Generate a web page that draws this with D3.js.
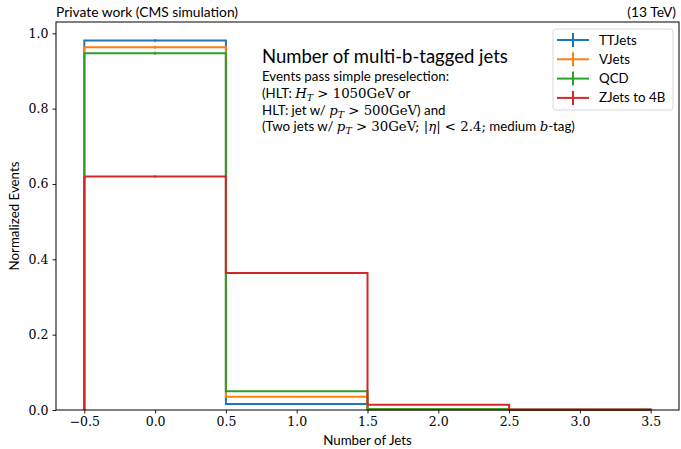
<!DOCTYPE html>
<html>
<head>
<meta charset="utf-8">
<script src="https://cdn.jsdelivr.net/npm/d3@7"></script>
<style>
	body { margin: 0; background: #fff; }
	svg { display: block; }
	.sans { font-family: 'Lato', 'DejaVu Sans', sans-serif; }
	.serif { font-family: 'DejaVu Serif', 'Liberation Serif', serif; }
</style>
</head>
<body>
<div id="chart"></div>
<script>
// bin edges (number of jets)
var binEdges = [-0.5, 0.5, 1.5, 2.5, 3.5];

// normalized contents per sample
var seriesNames = ['TTJets', 'VJets', 'QCD', 'ZJets to 4B'];
var ttjets = [0.981, 0.016, 0.002, 0.0005];
var vjets = [0.963, 0.035, 0.002, 0.0003];
var qcd = [0.947, 0.050, 0.002, 0.0005];
var zjets = [0.620, 0.364, 0.014, 0.001];
var seriesErr = [0.004, 0.004, 0.004, 0.004];

var xTicks = [-0.5, 0.0, 0.5, 1.0, 1.5, 2.0, 2.5, 3.0, 3.5];
var yTicks = [0.0, 0.2, 0.4, 0.6, 0.8, 1.0];

var colors = ['#1f77b4', '#ff7f0e', '#2ca02c', '#d62728'];
var allSeries = [ttjets, vjets, qcd, zjets];

var attrs = {
	width: 681,
	height: 449,
	marginLeft: 56,
	marginRight: 2,
	marginTop: 22,
	marginBottom: 39,
	textSize: 13.3
};

var svg = d3.select('#chart').append('svg')
	.attr('width', attrs.width)
	.attr('height', attrs.height);

var x0 = attrs.marginLeft, x1 = attrs.width - attrs.marginRight;
var y0 = attrs.height - attrs.marginBottom, y1 = attrs.marginTop;

var ymax = d3.max(allSeries, s => d3.max(s)) * 1.05;

var x = d3.scaleLinear().domain([-0.7, 3.7]).range([x0, x1]);
var y = d3.scaleLinear().domain([0, ymax]).range([y0, y1]);

// histogram steps
var plot = svg.append('g');
allSeries.forEach(function (vals, si) {
	var pts = [[binEdges[0], 0]];
	vals.forEach(function (v, i) {
		pts.push([binEdges[i], v]);
		pts.push([binEdges[i + 1], v]);
	});
	pts.push([binEdges[binEdges.length - 1], 0]);

	plot.append('path')
		.attr('d', d3.line().x(d => x(d[0])).y(d => y(d[1]))(pts))
		.attr('fill', 'none')
		.attr('stroke', colors[si])
		.attr('stroke-width', 2);

	// small error bars at bin centers
	vals.forEach(function (v, i) {
		var c = (binEdges[i] + binEdges[i + 1]) / 2;
		var e = seriesErr[si] * Math.sqrt(v);
		plot.append('line')
			.attr('x1', x(c)).attr('x2', x(c))
			.attr('y1', y(v - e)).attr('y2', y(v + e))
			.attr('stroke', colors[si])
			.attr('stroke-width', 1.5);
	});
});

// frame
svg.append('rect')
	.attr('x', x0).attr('y', y1)
	.attr('width', x1 - x0).attr('height', y0 - y1)
	.attr('fill', 'none')
	.attr('stroke', '#000')
	.attr('stroke-width', 1);

// axes
var xAxis = svg.append('g')
	.attr('transform', 'translate(0,' + y0 + ')')
	.call(d3.axisBottom(x).tickValues(xTicks).tickSize(3.5).tickPadding(4)
		.tickFormat(d => d3.format('.1f')(d).replace('-', '\u2212')));
var yAxis = svg.append('g')
	.attr('transform', 'translate(' + x0 + ',0)')
	.call(d3.axisLeft(y).tickValues(yTicks).tickSize(3.5).tickPadding(4)
		.tickFormat(d3.format('.1f')));

[xAxis, yAxis].forEach(function (a) {
	a.select('.domain').remove();
	a.selectAll('.tick line').attr('stroke', '#000').attr('stroke-width', 0.9);
	a.selectAll('.tick text')
		.attr('class', 'serif')
		.attr('font-size', 12.5)
		.attr('fill', '#000');
});

// axis labels
svg.append('text')
	.attr('class', 'sans')
	.attr('x', (x0 + x1) / 2).attr('y', 445)
	.attr('text-anchor', 'middle')
	.attr('font-size', attrs.textSize)
	.text('Number of Jets');

svg.append('text')
	.attr('class', 'sans')
	.attr('transform', 'translate(19,' + ((y0 + y1) / 2) + ') rotate(-90)')
	.attr('text-anchor', 'middle')
	.attr('font-size', attrs.textSize)
	.text('Normalized Events');

// header texts
svg.append('text')
	.attr('class', 'sans')
	.attr('x', x0).attr('y', 17)
	.attr('font-size', 13.8)
	.text('Private work (CMS simulation)');

svg.append('text')
	.attr('class', 'sans')
	.attr('x', 676).attr('y', 17)
	.attr('text-anchor', 'end')
	.attr('font-size', 13.8)
	.text('(13 TeV)');

// title block
svg.append('text')
	.attr('class', 'sans')
	.attr('x', 262).attr('y', 63)
	.attr('font-size', 18.5)
	.text('Number of multi-b-tagged jets');

function richLine(yPos, parts) {
	var t = svg.append('text')
		.attr('x', 262).attr('y', yPos)
		.attr('font-size', attrs.textSize);
	parts.forEach(function (p) {
		t.append('tspan')
			.attr('class', p.m ? 'serif' : 'sans')
			.attr('font-style', p.i ? 'italic' : null)
			.attr('font-size', p.sub ? 9.5 : null)
			.attr('dy', p.dy || null)
			.text(p.t);
	});
}

richLine(81, [{ t: 'Events pass simple preselection:' }]);
richLine(98, [
	{ t: '(HLT: ' },
	{ t: 'H', m: true, i: true },
	{ t: 'T', m: true, i: true, sub: true, dy: 3 },
	{ t: ' > 1050GeV', m: true, dy: -3 },
	{ t: ' or' }
]);
richLine(115, [
	{ t: 'HLT: jet w/ ' },
	{ t: 'p', m: true, i: true },
	{ t: 'T', m: true, i: true, sub: true, dy: 3 },
	{ t: ' > 500GeV', m: true, dy: -3 },
	{ t: ') and' }
]);
richLine(131, [
	{ t: '(Two jets w/ ' },
	{ t: 'p', m: true, i: true },
	{ t: 'T', m: true, i: true, sub: true, dy: 3 },
	{ t: ' > 30GeV; |', m: true, dy: -3 },
	{ t: '\u03b7', m: true, i: true },
	{ t: '| < 2.4;', m: true },
	{ t: ' medium ' },
	{ t: 'b', m: true, i: true },
	{ t: '-tag)' }
]);

// legend
var legend = svg.append('g');
legend.append('rect')
	.attr('x', 553).attr('y', 29)
	.attr('width', 120).attr('height', 81)
	.attr('rx', 3)
	.attr('fill', '#fff').attr('fill-opacity', 0.8)
	.attr('stroke', '#d9d9d9');

seriesNames.forEach(function (name, i) {
	var ly = 40 + i * 19.3;
	legend.append('line')
		.attr('x1', 557).attr('x2', 589)
		.attr('y1', ly).attr('y2', ly)
		.attr('stroke', colors[i]).attr('stroke-width', 2);
	legend.append('line')
		.attr('x1', 573).attr('x2', 573)
		.attr('y1', ly - 7).attr('y2', ly + 7)
		.attr('stroke', colors[i]).attr('stroke-width', 2);
	legend.append('text')
		.attr('class', 'sans')
		.attr('x', 599).attr('y', ly + 4.5)
		.attr('font-size', attrs.textSize)
		.text(name);
});
</script>
</body>
</html>
